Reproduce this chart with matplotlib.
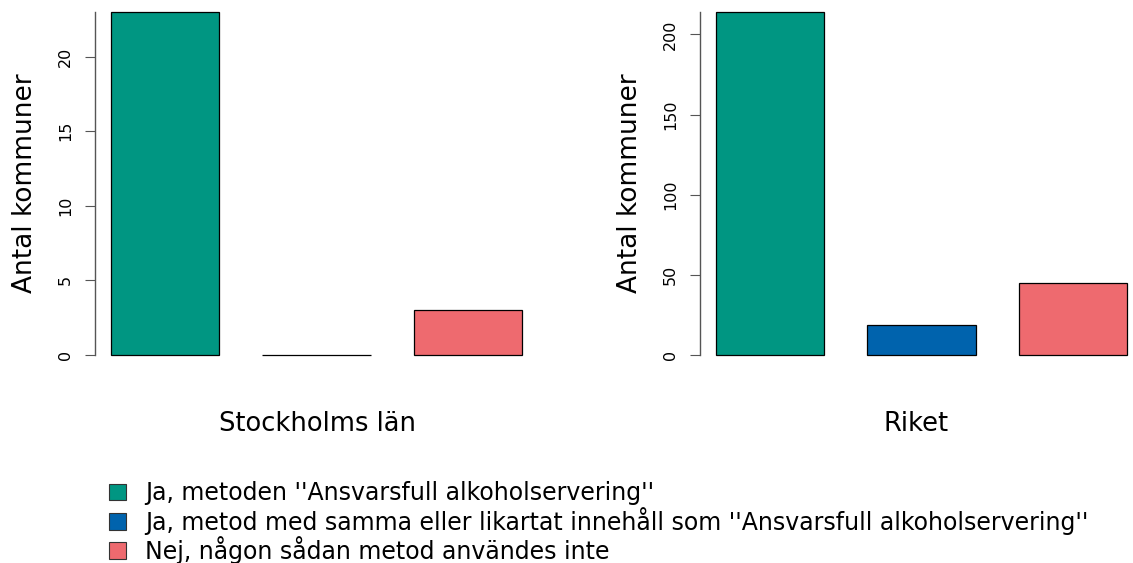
import matplotlib
matplotlib.use("Agg")
import matplotlib.pyplot as plt
from matplotlib.patches import Patch

# data
categories = ["Ja, metoden ''Ansvarsfull alkoholservering''",
              "Ja, metod med samma eller likartat innehåll som ''Ansvarsfull alkoholservering''",
              "Nej, någon sådan metod användes inte"]
colors = ["#009682", "#0063ad", "#ee6a6f"]
stockholm = [23, 0, 3]
riket = [214, 19, 45]
stockholm_ticks = [0, 5, 10, 15, 20]
riket_ticks = [0, 50, 100, 150, 200]
panel_titles = ["Stockholms län", "Riket"]
ylabel = "Antal kommuner"

W, H = 1133, 563
fig = plt.figure(figsize=(W / 100, H / 100), dpi=100)

def px_axes(x0, x1, y0, y1):
    # pixel box -> figure fraction (y measured from top)
    return fig.add_axes([x0 / W, (H - y1) / H, (x1 - x0) / W, (y1 - y0) / H])

def draw_panel(ax, vals, ticks, title, xmax):
    x = range(len(vals))
    bars = ax.bar(x, vals, width=0.715, color=colors, edgecolor="black", linewidth=0.9)
    for b in bars:
        b.set_clip_on(False)
    ax.set_xlim(-0.462, xmax)
    ax.set_ylim(0, max(vals))
    for s in ["top", "right", "bottom"]:
        ax.spines[s].set_visible(False)
    ax.spines["left"].set_color("#555555")
    ax.spines["left"].set_linewidth(1.0)
    ax.set_xticks([])
    ax.set_yticks(ticks)
    ax.set_yticklabels([str(t) for t in ticks], rotation=90, va="center", fontsize=11.5)
    ax.tick_params(axis="y", length=7, color="#555555", pad=9)
    ax.set_ylabel(ylabel, fontsize=19, labelpad=14)
    ax.set_xlabel(title, fontsize=18.5, labelpad=40)

ax1 = px_axes(95, 540, 12, 355)
draw_panel(ax1, stockholm, stockholm_ticks, panel_titles[0], 2.475)
ax2 = px_axes(700, 1133, 12, 355)
draw_panel(ax2, riket, riket_ticks, panel_titles[1], 2.396)

handles = [Patch(facecolor=c, edgecolor="#333333", linewidth=0.8) for c in colors]
fig.legend(handles, categories, loc="upper left", bbox_to_anchor=(100 / W, 1 - 472 / H),
           frameon=False, fontsize=17, handlelength=0.7, handleheight=0.7,
           handletextpad=0.8, labelspacing=0.05, borderaxespad=0)

fig.savefig("out.png", dpi=100)
